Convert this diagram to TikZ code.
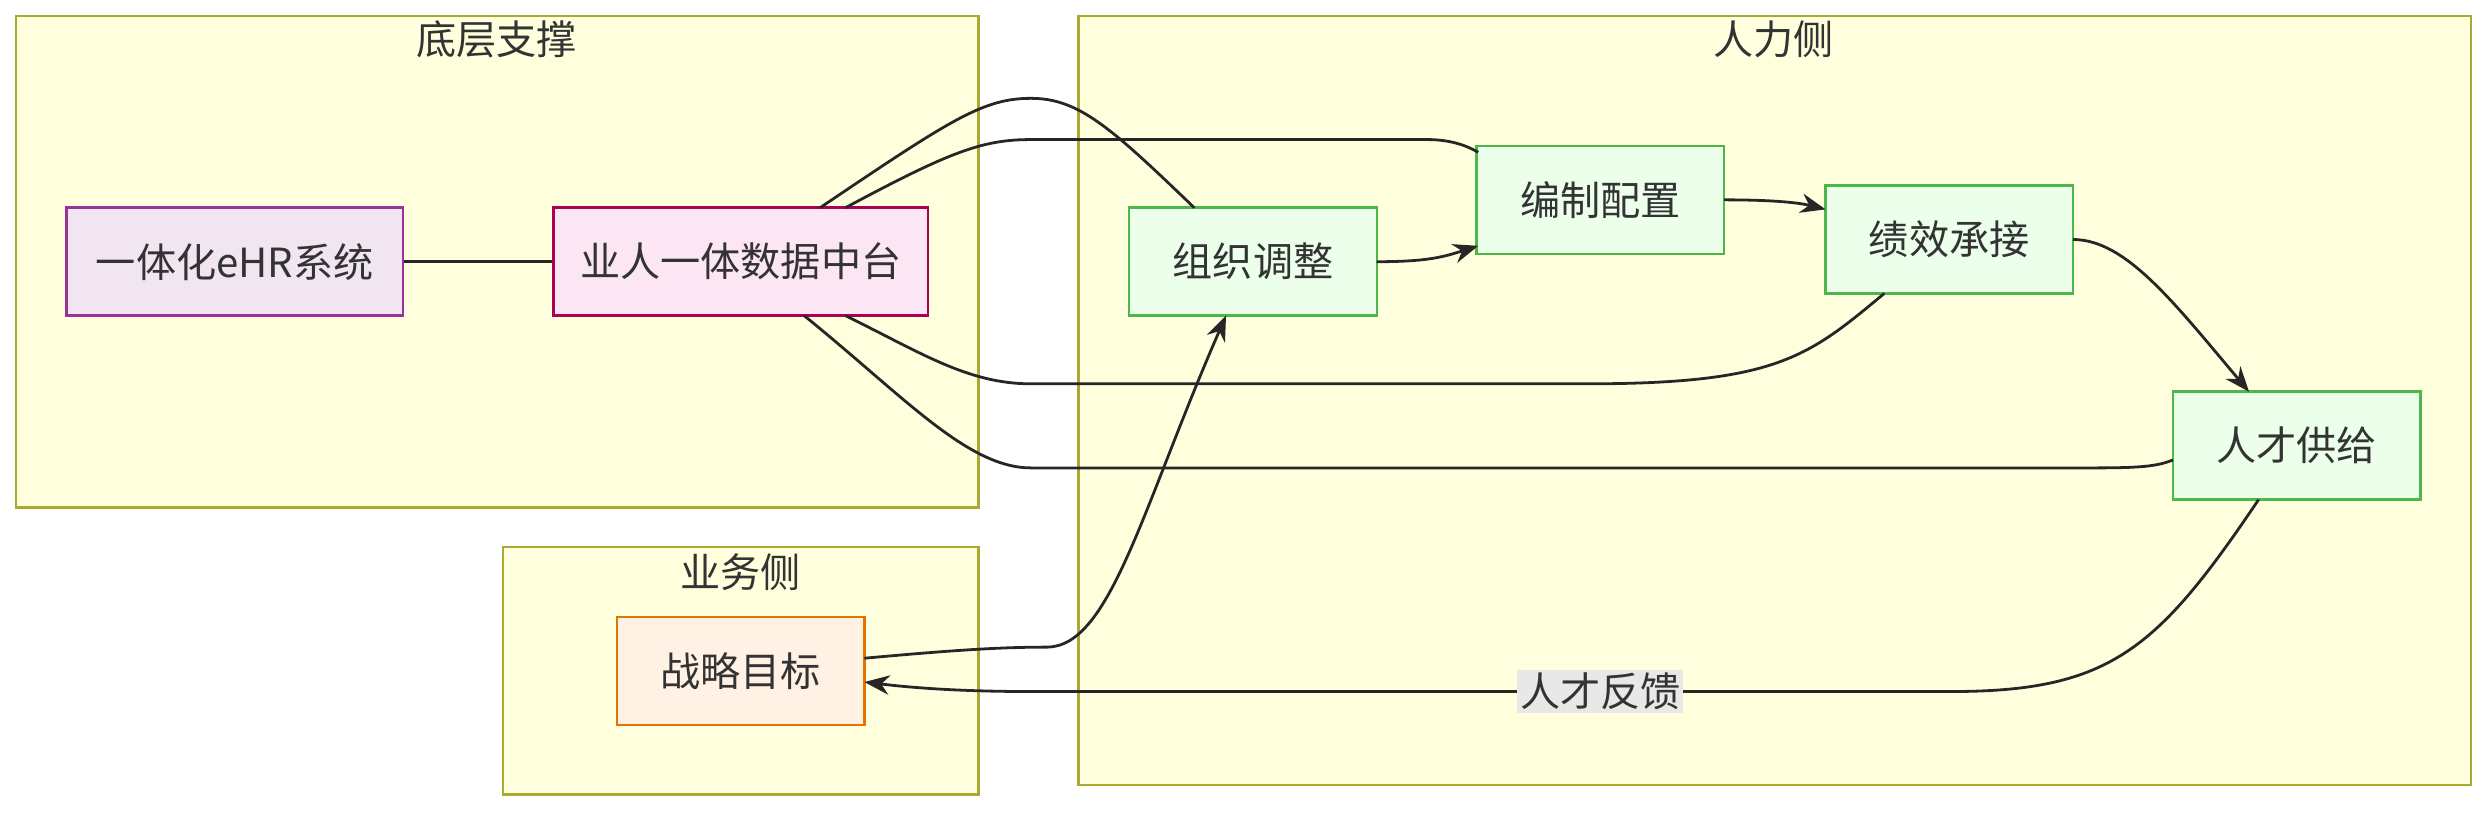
\documentclass[tikz,border=0pt]{standalone}
\usepackage{fontspec}
\setmainfont{Noto Sans CJK SC}
\usetikzlibrary{arrows.meta}
\definecolor{clfill}{HTML}{FFFFDE}
\definecolor{cldraw}{HTML}{AAAA33}
\tikzset{
  cl/.style={draw=cldraw,fill=clfill,line width=0.45pt},
  ttl/.style={font=\fontsize{7.2}{8.5}\selectfont,text=black!80},
  box/.style={draw,line width=0.45pt,minimum height=0.68cm,font=\fontsize{7.2}{8.5}\selectfont,text=black!80,inner sep=0pt},
  grn/.style={box,draw=green!60!black!70,fill=green!8,minimum width=1.56cm},
  ln/.style={draw=black!85,line width=0.5pt},
  ar/.style={ln,-{Stealth[length=4.5pt,width=3.5pt]}}
}
\begin{document}
\begin{tikzpicture}[x=0.01cm,y=-0.01cm]
\useasboundingbox (0,0) rectangle (1568,512);
\draw[cl] (10,10) rectangle (617,320);
\node[ttl] (t1) at (313,25) {底层支撑};
\draw[cl] (317,345) rectangle (617,501);
\node[ttl] (t2) at (467,361) {业务侧};
\draw[cl] (680,10) rectangle (1558,495);
\node[ttl] (t3) at (1118,25) {人力侧};
\node[box,draw=violet!80,fill=violet!10,minimum width=2.12cm] (ehr) at (148,165) {一体化eHR系统};
\node[box,draw=purple!70!violet,fill=magenta!10,minimum width=2.36cm] (dt) at (467,165) {业人一体数据中台};
\node[grn] (zz) at (790,165) {组织调整};
\node[grn] (bz) at (1009,126) {编制配置};
\node[grn] (jx) at (1229,151) {绩效承接};
\node[grn] (rc) at (1448,281) {人才供给};
\node[box,draw=orange!90!black,fill=orange!10,minimum width=1.56cm] (zl) at (467,423) {战略目标};
\draw[ln] (ehr) -- (dt);
\draw[ln] (517,131) .. controls (600,75) and (620,62) .. (650,62) .. controls (680,62) and (700,80) .. (753,131);
\draw[ln] (533,131) .. controls (600,95) and (620,88) .. (650,88) -- (900,88) .. controls (915,88) and (925,92) .. (932,96);
\draw[ar] (868,165) .. controls (900,165) and (910,162) .. (932,155);
\draw[ar] (1087,126) .. controls (1120,126) and (1135,128) .. (1151,132);
\draw[ar] (1307,151) .. controls (1340,151) and (1370,190) .. (1418,247);
\draw[ln] (1188,185) .. controls (1140,225) and (1120,242) .. (1000,242) -- (650,242) .. controls (610,242) and (580,222) .. (533,199);
\draw[ln] (1370,290) .. controls (1360,294) and (1350,295) .. (1320,295) -- (650,295) .. controls (610,295) and (570,250) .. (507,199);
\draw[ar] (545,415) .. controls (600,410) and (630,408) .. (660,408) .. controls (700,408) and (720,320) .. (773,199);
\draw[ar] (1424,315) .. controls (1360,410) and (1330,436) .. (1230,436) -- (650,436) .. controls (600,436) and (570,433) .. (545,430);
\node[fill=black!9,inner sep=0.5pt,font=\fontsize{7.2}{8.5}\selectfont,text=black!80] (fk) at (1009,436) {人才反馈};
\end{tikzpicture}
\end{document}
